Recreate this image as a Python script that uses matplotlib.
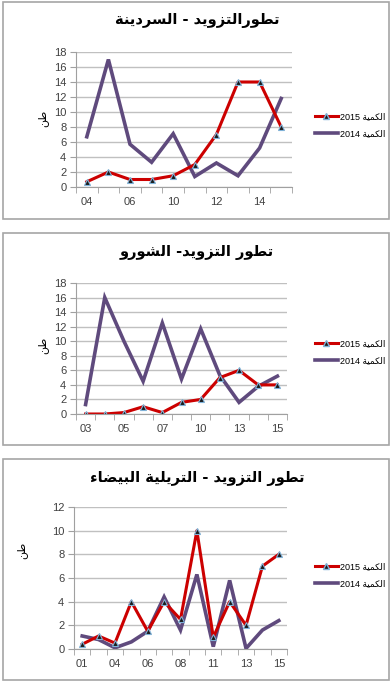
import re
import matplotlib
matplotlib.use('Agg')
import matplotlib.pyplot as plt
from matplotlib.patches import Rectangle
from matplotlib.lines import Line2D

plt.rcParams['font.family'] = ['Liberation Sans', 'DejaVu Sans']

# Data
titles = ['تطورالتزويد - السردينة', 'تطور التزويد- الشورو', 'تطور التزويد - التريلية البيضاء']
ylabel = 'طن'
legend_2015 = 'الكمية 2015'
legend_2014 = 'الكمية 2014'

cats_1 = ['04', '05', '06', '08', '10', '11', '12', '13', '14', '15']
q2015_1 = [0.7, 2, 1, 1, 1.5, 3, 7, 14, 14, 8]
q2014_1 = [6.7, 17, 5.7, 3.3, 7.1, 1.4, 3.2, 1.5, 5.2, 11.8]

cats_2 = ['03', '04', '05', '06', '07', '09', '10', '12', '13', '14', '15']
q2015_2 = [0, 0, 0.2, 1, 0.2, 1.6, 2, 5, 6, 4, 4]
q2014_2 = [1.3, 16, 10, 4.5, 12.5, 4.8, 11.7, 5.3, 1.6, 3.8, 5.2]

cats_3 = ['01', '03', '04', '05', '06', '07', '08', '10', '11', '12', '13', '14', '15']
q2015_3 = [0.4, 1.1, 0.5, 4, 1.5, 4, 2.5, 10, 1, 4, 2, 7, 8]
q2014_3 = [1.1, 0.8, 0.1, 0.6, 1.5, 4.4, 1.6, 6.3, 0.2, 5.8, 0.05, 1.6, 2.4]

ymax = [18, 18, 12]

# minimal arabic shaping (presentation forms) + right-to-left order
FORMS = {
    'ء': (0xFE80, 1), 'ا': (0xFE8D, 2), 'ب': (0xFE8F, 4), 'ة': (0xFE93, 2),
    'ت': (0xFE95, 4), 'د': (0xFEA9, 2), 'ر': (0xFEAD, 2), 'ز': (0xFEAF, 2),
    'س': (0xFEB1, 4), 'ش': (0xFEB5, 4), 'ض': (0xFEBD, 4), 'ط': (0xFEC1, 4),
    'ك': (0xFED9, 4), 'ل': (0xFEDD, 4), 'م': (0xFEE1, 4), 'ن': (0xFEE5, 4),
    'و': (0xFEED, 2), 'ي': (0xFEF1, 4),
}


def ar(s):
    out = []
    for i, c in enumerate(s):
        if c not in FORMS:
            out.append(c)
            continue
        base, n = FORMS[c]
        prev = s[i - 1] if i > 0 else ''
        nxt = s[i + 1] if i + 1 < len(s) else ''
        jp = n >= 2 and prev in FORMS and FORMS[prev][1] == 4
        jn = n == 4 and nxt in FORMS and FORMS[nxt][1] >= 2
        if jp and jn:
            off = 3
        elif jp:
            off = 1
        elif jn:
            off = 2
        else:
            off = 0
        out.append(chr(base + off))
    rev = ''.join(out)[::-1]
    return re.sub(r'\d+', lambda m: m.group(0)[::-1], rev)


RED = '#cc0000'
PURPLE = '#5f4a7d'
GRID = '#c0c0c0'

W, H = 392, 682
fig = plt.figure(figsize=(W / 100, H / 100), dpi=100)

boxes = [(2, 219), (233, 445), (459, 680)]
axes_px = [(76, 292, 52, 187), (76, 287, 283, 414), (74, 287, 507, 649)]
title_y = [21, 253, 478]
ylab_pos = [(43, 118), (43, 345), (22, 550)]
leg_y = [125, 352, 575]
data = [(cats_1, q2015_1, q2014_1), (cats_2, q2015_2, q2014_2), (cats_3, q2015_3, q2014_3)]

for k in range(3):
    top, bot = boxes[k]
    fig.patches.append(Rectangle((3 / W, 1 - bot / H), 386 / W, (bot - top) / H,
                                 transform=fig.transFigure, fill=False,
                                 edgecolor='#a6a6a6', linewidth=1.2))
    l, r, t, b = axes_px[k]
    ax = fig.add_axes([l / W, 1 - b / H, (r - l) / W, (b - t) / H])
    cats, a, c = data[k]
    x = list(range(len(cats)))
    ax.plot(x, c, color=PURPLE, linewidth=2.6, solid_joinstyle='miter')
    ax.plot(x, a, color=RED, linewidth=2.2, marker='^', markersize=4.5,
            markerfacecolor='#1a1a1a', markeredgecolor='#7fb2d8', markeredgewidth=0.8)
    ax.set_xlim(-0.5, len(cats) - 0.5)
    ax.set_ylim(0, ymax[k])
    ax.set_yticks(range(0, ymax[k] + 1, 2))
    ax.set_xticks(x[::2])
    ax.set_xticklabels(cats[::2])
    ax.set_xticks([i - 0.5 for i in range(len(cats) + 1)], minor=True)
    ax.tick_params(axis='x', which='major', length=0, pad=7, labelsize=8, colors='#404040')
    ax.tick_params(axis='x', which='minor', length=4, color='#a0a0a0', direction='out')
    ax.tick_params(axis='y', length=4, color='#a0a0a0', labelsize=8, colors='#404040', pad=3)
    ax.grid(axis='y', color=GRID, linewidth=1)
    ax.set_axisbelow(True)
    for s in ['top', 'right']:
        ax.spines[s].set_visible(False)
    for s in ['left', 'bottom']:
        ax.spines[s].set_color('#a0a0a0')

    fig.text(197 / W, 1 - title_y[k] / H, ar(titles[k]), ha='center', va='center',
             fontsize=10.5, fontweight='bold', family='DejaVu Sans')
    fig.text(ylab_pos[k][0] / W, 1 - ylab_pos[k][1] / H, ar(ylabel), rotation=90,
             ha='center', va='center', fontsize=8, family='DejaVu Sans')

    handles = [Line2D([], [], color=RED, linewidth=2.2, marker='^', markersize=4.5,
                      markerfacecolor='#1a1a1a', markeredgecolor='#7fb2d8'),
               Line2D([], [], color=PURPLE, linewidth=2.6)]
    fig.legend(handles, [ar(legend_2015), ar(legend_2014)], loc='center left',
               bbox_to_anchor=(310 / W, 1 - leg_y[k] / H), frameon=False,
               fontsize=6.5, handlelength=2.6, handletextpad=0.2, labelspacing=0.9,
               numpoints=1, borderpad=0)

fig.savefig('out.png', dpi=100)
